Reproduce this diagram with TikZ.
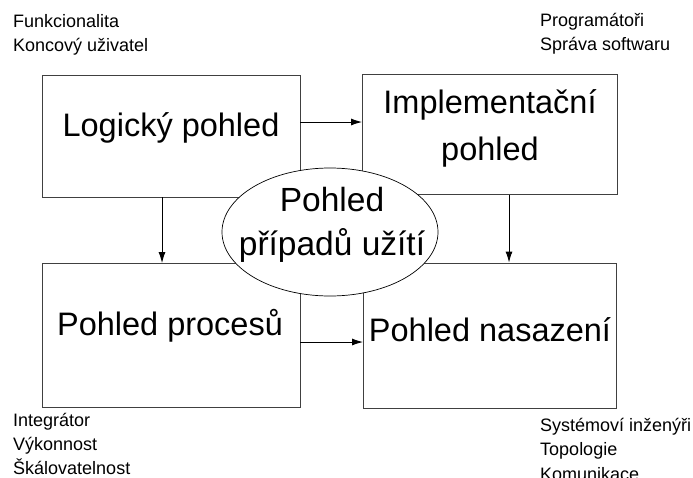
\documentclass[tikz,border=0pt]{standalone}
\usepackage{fontspec}
\setmainfont{Liberation Sans}
\usetikzlibrary{arrows.meta,shapes.geometric}

\begin{document}
\begin{tikzpicture}
[
    x=1pt, y=-1pt,
    box/.style={draw=black!75, line width=0.9pt, inner sep=0pt},
    big/.style={font=\fontsize{32.5}{47}\selectfont, align=center, inner sep=0pt},
    note/.style={font=\fontsize{18}{24}\selectfont, align=left, anchor=north west, inner sep=0pt},
    arr/.style={-{Latex[length=11pt,width=7pt]}, line width=0.9pt},
]
\clip (0,0) rectangle (693,477);
\fill[white] (0,0) rectangle (693,477);
% the four views
\node [box, minimum width=258pt, minimum height=122pt] (logic) at (171,136) {};
\node [box, minimum width=255pt, minimum height=120pt] (impl) at (490,134.5) {};
\node [box, minimum width=258pt, minimum height=144pt] (proc) at (171,335.5) {};
\node [box, minimum width=253pt, minimum height=145pt] (deploy) at (490,335.5) {};
\node [big] (logictext) at (171,128) {Logický pohled};
\node [big] (impltext) at (490,128) {Implementační\\pohled};
\node [big] (proctext) at (170,326) {Pohled procesů};
\node [big] (deploytext) at (490,330) {Pohled nasazení};
% connectors
\draw [arr] (logic.east |- 0,122) -- (impl.west |- 0,122);
\draw [arr] (logic.south -| 162,0) -- (proc.north -| 162,0);
\draw [arr] (impl.south -| 509,0) -- (deploy.north -| 509,0);
\draw [arr] (proc.east |- 0,342) -- (deploy.west |- 0,342);
% scenarios in the middle
\node [draw, ellipse, fill=white, line width=0.7pt, minimum width=216pt, minimum height=128pt] (usecase) at (330,232) {};
\node [big, font=\fontsize{33.5}{44}\selectfont] (usecasetext) at (332,225) {Pohled\\případů užítí};
% stakeholders and concerns
\node [note] (tlnote) at (13,14) {Funkcionalita\\Koncový uživatel};
\node [note] (trnote) at (540,13) {Programátoři\\Správa softwaru};
\node [note] (blnote) at (13,413) {Integrátor\\Výkonnost\\Škálovatelnost};
\node [note, font=\fontsize{18}{24.5}\selectfont] (brnote) at (540,418) {Systémoví inženýři\\Topologie\\Komunikace};
\end{tikzpicture}
\end{document}
